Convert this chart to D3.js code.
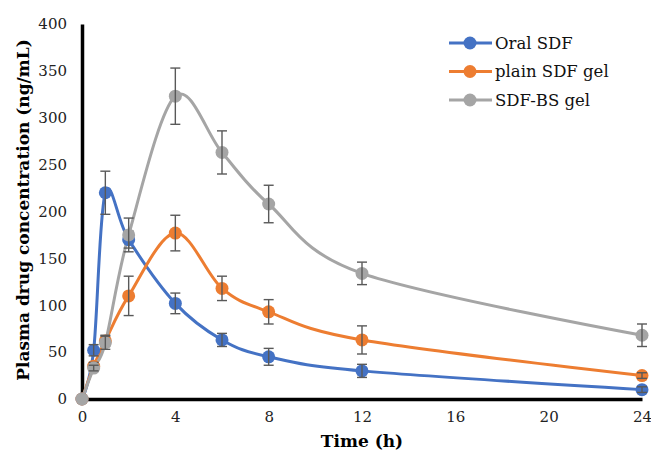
<!DOCTYPE html>
<html><head><meta charset="utf-8">
<script src="https://cdn.jsdelivr.net/npm/d3@7"></script>
<style>body{margin:0;background:#fff}svg{display:block}</style>
</head><body><svg id="c" width="651" height="455"></svg>
<script>
const times = [0, 0.5, 1, 2, 4, 6, 8, 12, 24];
const seriesNames = ["Oral SDF", "plain SDF gel", "SDF-BS gel"];
const oralVals = [0, 52, 220, 170, 102, 63, 45, 30, 10];
const oralErr  = [0, 6, 23, 9, 11, 7, 9, 7, 3];
const plainVals = [0, 35, 62, 110, 177, 118, 93, 63, 25];
const plainErr  = [0, 4, 6, 21, 19, 13, 13, 15, 3];
const bsVals = [0, 33, 60, 175, 323, 263, 208, 134, 68];
const bsErr  = [0, 3, 7, 18, 30, 23, 20, 12, 12];
const colors = ["#4472C4", "#ED7D31", "#A5A5A5"];
const xTicks = [0, 4, 8, 12, 16, 20, 24];
const yTicks = [0, 50, 100, 150, 200, 250, 300, 350, 400];

const svg = d3.select("#c");
const font = "'DejaVu Serif','Liberation Serif',serif";
const x = d3.scaleLinear().domain([0, 24]).range([82, 642]);
const y = d3.scaleLinear().domain([0, 400]).range([399, 24]);

// axes
const yAxis = svg.append("g").attr("transform", "translate(82,0)")
  .call(d3.axisLeft(y).tickValues(yTicks).tickSize(0).tickPadding(15));
yAxis.select(".domain").attr("stroke", "#000").attr("stroke-width", 3.5);
yAxis.selectAll("text").attr("font-family", font).attr("font-size", 15).attr("fill", "#222");
const xAxis = svg.append("g").attr("transform", "translate(0,399)")
  .call(d3.axisBottom(x).tickValues(xTicks).tickSize(0).tickPadding(12));
xAxis.select(".domain").attr("stroke", "#000").attr("stroke-width", 3.5);
xAxis.selectAll("text").attr("font-family", font).attr("font-size", 15).attr("fill", "#222");

svg.append("text").attr("x", 362).attr("y", 447).attr("text-anchor", "middle")
  .attr("font-family", font).attr("font-weight", "bold").attr("font-size", 17).text("Time (h)");
svg.append("text").attr("transform", "translate(29,210) rotate(-90)").attr("text-anchor", "middle")
  .attr("font-family", font).attr("font-weight", "bold").attr("font-size", 17)
  .text("Plasma drug concentration (ng/mL)");

const series = [
  {name: seriesNames[0], vals: oralVals, err: oralErr, color: colors[0]},
  {name: seriesNames[1], vals: plainVals, err: plainErr, color: colors[1]},
  {name: seriesNames[2], vals: bsVals, err: bsErr, color: colors[2]}
];

const line = d3.line().x(d => x(d[0])).y(d => y(d[1])).curve(d3.curveCardinal.tension(0));

series.forEach(s => {
  const pts = times.map((t, i) => [t, s.vals[i], s.err[i]]);
  svg.append("path").datum(pts).attr("d", line).attr("fill", "none")
    .attr("stroke", s.color).attr("stroke-width", 3);
});
series.forEach(s => {
  const pts = times.map((t, i) => [t, s.vals[i], s.err[i]]);
  const g = svg.append("g");
  g.selectAll("circle").data(pts).join("circle")
    .attr("cx", d => x(d[0])).attr("cy", d => y(d[1])).attr("r", 6.5).attr("fill", s.color);
  const eb = svg.append("g").attr("stroke", "#595959").attr("stroke-width", 1.4);
  pts.filter(d => d[2] > 0).forEach(d => {
    const cx = x(d[0]);
    eb.append("line").attr("x1", cx).attr("x2", cx).attr("y1", y(d[1] + d[2])).attr("y2", y(d[1] - d[2]));
    eb.append("line").attr("x1", cx - 5).attr("x2", cx + 5).attr("y1", y(d[1] + d[2])).attr("y2", y(d[1] + d[2]));
    eb.append("line").attr("x1", cx - 5).attr("x2", cx + 5).attr("y1", y(d[1] - d[2])).attr("y2", y(d[1] - d[2]));
  });
});

// legend
const leg = svg.append("g");
series.forEach((s, i) => {
  const ly = 43 + i * 28.5;
  leg.append("line").attr("x1", 449).attr("x2", 492).attr("y1", ly).attr("y2", ly)
    .attr("stroke", s.color).attr("stroke-width", 3);
  leg.append("circle").attr("cx", 470).attr("cy", ly).attr("r", 6.5).attr("fill", s.color);
  leg.append("text").attr("x", 495).attr("y", ly + 5.5).attr("font-family", font)
    .attr("font-size", 16.5).attr("fill", "#111").text(s.name);
});
</script></body></html>
